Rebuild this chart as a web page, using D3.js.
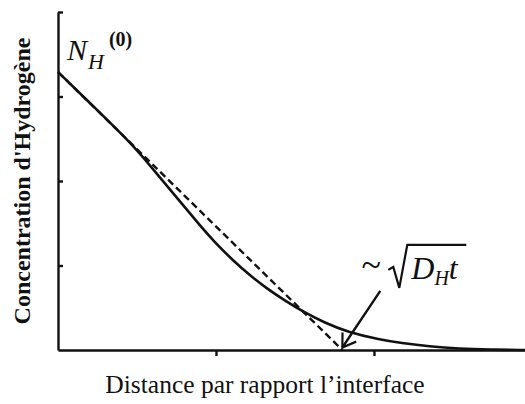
<!DOCTYPE html>
<html>
<head>
<meta charset="utf-8">
<script src="https://cdn.jsdelivr.net/npm/d3@7"></script>
<style>
  html, body { margin: 0; padding: 0; background: #fff; }
  svg { display: block; }
  text { font-family: "Liberation Serif", "Times New Roman", serif; fill: #111; }
</style>
</head>
<body>
<svg id="chart" width="525" height="404"></svg>
<script>
// Hydrogen concentration profile vs distance from the interface
const distance      = [0, 0.27, 0.46, 0.58, 0.74, 0.90, 0.99, 1.11, 1.22, 1.32, 1.44, 1.55, 1.69, 1.83, 2.04, 2.17, 2.35, 2.54, 2.73, 2.96];
const concentration = [3.29, 2.80, 2.45, 2.19, 1.83, 1.47, 1.28, 1.055, 0.875, 0.73, 0.58, 0.455, 0.32, 0.215, 0.12, 0.083, 0.041, 0.015, 0.004, 0];

// linear approximation (tangent at the interface)
const tangentX = [0, 1.80];
const tangentY = [3.29, 0];

// arrow pointing at the penetration depth ~ sqrt(D_H t)
const arrowX = [2.04, 1.80];
const arrowY = [0.70, 0.03];

const xTicks = [1, 2];
const yTicks = [1, 2, 3, 4];

const xLabel = "Distance par rapport l\u2019interface";
const yLabel = "Concentration d'Hydrogène";

const svg = d3.select("#chart");
const x = d3.scaleLinear().domain([0, 2.956]).range([58, 525]);
const y = d3.scaleLinear().domain([0, 4]).range([350, 12]);

// axes
const xAxis = svg.append("g")
  .attr("transform", `translate(0,${y(0)})`)
  .call(d3.axisBottom(x).tickValues(xTicks).tickSizeInner(6).tickSizeOuter(0).tickFormat(""));
const yAxis = svg.append("g")
  .attr("transform", `translate(${x(0)},0)`)
  .call(d3.axisRight(y).tickValues(yTicks).tickSizeInner(5).tickSizeOuter(0).tickFormat(""));
[xAxis, yAxis].forEach(g => {
  g.selectAll("path, line").attr("stroke", "#111").attr("stroke-width", 2.4);
});

// tangent line (dashed)
svg.append("path")
  .attr("d", d3.line().x(d => x(d[0])).y(d => y(d[1]))(d3.zip(tangentX, tangentY)))
  .attr("fill", "none").attr("stroke", "#111").attr("stroke-width", 2.4)
  .attr("stroke-dasharray", "7,4");

// concentration profile
svg.append("path")
  .attr("d", d3.line().x(d => x(d[0])).y(d => y(d[1])).curve(d3.curveBasis)(d3.zip(distance, concentration)))
  .attr("fill", "none").attr("stroke", "#111").attr("stroke-width", 2.6);

// arrow with open head
const ax0 = x(arrowX[0]), ay0 = y(arrowY[0]), ax1 = x(arrowX[1]), ay1 = y(arrowY[1]);
svg.append("line").attr("x1", ax0).attr("y1", ay0).attr("x2", ax1).attr("y2", ay1)
  .attr("stroke", "#111").attr("stroke-width", 2.4);
const ang = Math.atan2(ay0 - ay1, ax0 - ax1);
const headLen = 15, spread = 0.58;
const head = [
  [ax1 + headLen * Math.cos(ang - spread), ay1 + headLen * Math.sin(ang - spread)],
  [ax1, ay1],
  [ax1 + headLen * Math.cos(ang + spread), ay1 + headLen * Math.sin(ang + spread)]
];
svg.append("path").attr("d", d3.line()(head))
  .attr("fill", "none").attr("stroke", "#111").attr("stroke-width", 2.2);

// N_H^(0) label at the surface concentration
const nl = svg.append("text").attr("x", x(0) + 9).attr("y", y(concentration[0]) - 12);
nl.append("tspan").attr("font-style", "italic").attr("font-size", 30).text("N");
nl.append("tspan").attr("font-style", "italic").attr("font-size", 22).attr("dx", 1).attr("dy", 9).text("H");
nl.append("tspan").attr("font-weight", "bold").attr("font-size", 20).attr("dx", 5).attr("dy", -23).text("(0)");

// ~ sqrt(D_H t) label, placed above the start of the arrow
const lx = ax0, ly = ay0;
svg.append("text").attr("x", lx - 9).attr("y", ly - 14).attr("font-size", 36).attr("text-anchor", "middle").text("~");
svg.append("path")
  .attr("d", `M${lx + 8},${ly - 21} L${lx + 13},${ly - 24} L${lx + 19},${ly - 3} L${lx + 27},${ly - 46} L${lx + 86},${ly - 46}`)
  .attr("fill", "none").attr("stroke", "#111").attr("stroke-width", 2.2).attr("stroke-linejoin", "miter");
const dl = svg.append("text").attr("x", lx + 31).attr("y", ly - 12);
dl.append("tspan").attr("font-style", "italic").attr("font-size", 32).text("D");
dl.append("tspan").attr("font-style", "italic").attr("font-size", 20).attr("dy", 6).text("H");
dl.append("tspan").attr("font-style", "italic").attr("font-size", 32).attr("dy", -6).text("t");

// axis titles
svg.append("text").attr("x", 265).attr("y", 393).attr("text-anchor", "middle")
  .attr("font-size", 25.5).text(xLabel);
svg.append("text").attr("transform", "translate(30,181) rotate(-90)").attr("text-anchor", "middle")
  .attr("font-size", 24).attr("font-weight", "bold").text(yLabel);
</script>
</body>
</html>
